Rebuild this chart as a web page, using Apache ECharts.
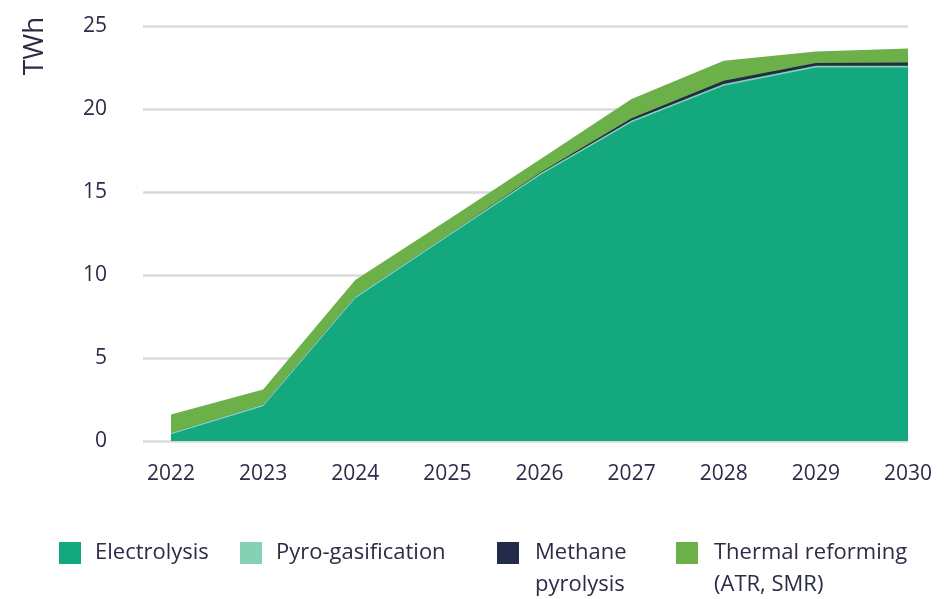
<!DOCTYPE html>
<html>
<head>
<meta charset="utf-8">
<script src="https://cdn.jsdelivr.net/npm/echarts@6/dist/echarts.min.js"></script>
<style>
  html, body { margin: 0; padding: 0; background: #ffffff; }
  #chart { width: 949px; height: 599px; }
</style>
</head>
<body>
<div id="chart"></div>
<script>
// Hydrogen production outlook by technology (TWh), stacked
const years = [2022, 2023, 2024, 2025, 2026, 2027, 2028, 2029, 2030];
const electrolysis = [0.4, 2.1, 8.6, 12.3, 16.0, 19.2, 21.4, 22.5, 22.5];
const pyroGasification = [0.1, 0.1, 0.1, 0.1, 0.1, 0.1, 0.1, 0.1, 0.1];
const methanePyrolysis = [0, 0, 0, 0, 0.05, 0.15, 0.2, 0.17, 0.2];
const thermalReforming = [1.1, 0.9, 1.0, 0.9, 0.8, 1.15, 1.2, 0.7, 0.85];
const yTicks = [0, 5, 10, 15, 20, 25];

const names = ['Electrolysis', 'Pyro-gasification', 'Methane\npyrolysis', 'Thermal reforming\n(ATR, SMR)'];
const colors = ['#14a87e', '#86d1b4', '#222b48', '#6cb04a'];
const layers = [electrolysis, pyroGasification, methanePyrolysis, thermalReforming];

const FONT = "'Open Sans', 'Noto Sans', sans-serif";
const INK = '#2b2c47';

// running totals: each layer's top edge is the sum of itself and all layers below
const cumulative = [];
layers.forEach((arr, k) => {
  cumulative.push(arr.map((v, i) => (k ? cumulative[k - 1][i] : 0) + v));
});

const chart = echarts.init(document.getElementById('chart'), null, { renderer: 'canvas' });

// paint the top layer first so each lower layer covers the part below its edge
const series = [3, 2, 1, 0].map(k => ({
  name: names[k],
  type: 'line',
  data: years.map((y, i) => [y, cumulative[k][i]]),
  showSymbol: false,
  symbol: 'none',
  lineStyle: { width: 0 },
  areaStyle: { color: colors[k], opacity: 1, origin: 'start' },
  itemStyle: { color: colors[k] }
}));

// one legend per item so each can sit where it belongs; two-line labels get
// a blank leading line so their first line lines up with the swatch
const legendLeft = [59, 240, 497, 676];
const legends = names.map((n, k) => {
  const twoLine = n.indexOf('\n') >= 0;
  return {
    data: [n],
    left: legendLeft[k],
    top: twoLine ? 505 : 537,
    padding: 0,
    itemWidth: 22,
    itemHeight: 22,
    icon: 'rect',
    selectedMode: false,
    formatter: name => (twoLine ? '\n' + name : name),
    textStyle: {
      fontFamily: FONT,
      fontSize: 22,
      color: INK,
      lineHeight: 32,
      padding: [0, 0, 0, twoLine ? 11 : 9]
    }
  };
});

chart.setOption({
  backgroundColor: '#ffffff',
  animation: false,
  grid: { left: 143, right: 41, top: 26, bottom: 158, containLabel: false },
  xAxis: {
    type: 'value',
    min: 2021.696,
    max: 2030,
    axisLine: { show: false },
    axisTick: { show: false },
    splitLine: { show: false },
    axisLabel: {
      customValues: years,
      formatter: v => String(v),
      fontFamily: FONT,
      fontSize: 21,
      color: INK,
      margin: 23
    }
  },
  yAxis: {
    type: 'value',
    min: 0,
    max: 25,
    interval: 5,
    axisLine: { show: false },
    axisTick: { show: false },
    splitLine: { show: true, lineStyle: { color: '#dadada', width: 2.5 } },
    axisLabel: {
      customValues: yTicks,
      fontFamily: FONT,
      fontSize: 21,
      color: INK,
      margin: 36
    }
  },
  legend: legends,
  graphic: [{
    type: 'text',
    x: 35,
    y: 46,
    rotation: Math.PI / 2,
    style: {
      text: 'TWh',
      fontFamily: FONT,
      fontSize: 28,
      fill: INK,
      align: 'center',
      verticalAlign: 'middle'
    }
  }],
  series: series
});
</script>
</body>
</html>
